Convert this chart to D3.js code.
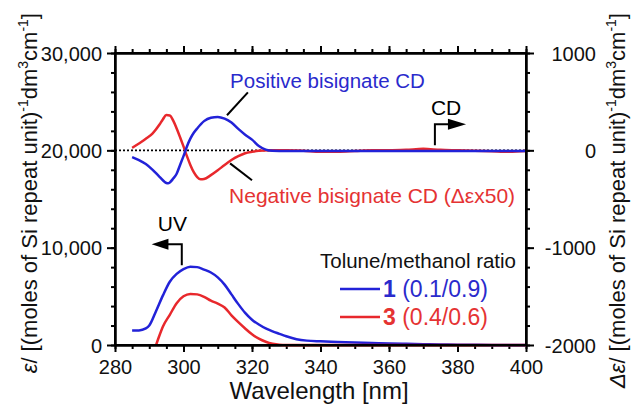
<!DOCTYPE html>
<html>
<head>
<meta charset="utf-8">
<script src="https://cdn.jsdelivr.net/npm/d3@7"></script>
<style>
  body { margin: 0; background: #fff; }
  svg text { font-family: "Liberation Sans", Arial, sans-serif; }
</style>
</head>
<body>
<div id="chart"></div>
<script>
//Data
var xTicks = [280, 300, 320, 340, 360, 380, 400];
var leftTicks = [0, 10000, 20000, 30000];
var rightTicks = [-2000, -1000, 0, 1000];

//CD spectra (right axis)
var cdBlueWave = [285,287,289,291,293,295,295.5,296,297,298,299,300,301,302,303,304,306,308,310,312,314,316,318,320,322,324,326,330,340,350,360,370,380,390,400];
var cdBlue = [-69,-100,-140,-200,-272,-335,-338,-330,-290,-240,-150,-60,40,120,180,225,300,335,343,325,285,220,160,110,45,8,-5,-8,-8,-8,-6,-6,-8,-8,-6];

var cdRedWave = [285,287,289,291,293,294,295,296,297,298,299,300,301,302,303,304,305,306,308,310,312,314,316,318,320,322,325,330,335,340,345,350,355,360,365,370,375,380,385,390,395,400];
var cdRed = [25,70,118,175,265,320,362,358,305,225,135,40,-60,-150,-225,-275,-298,-295,-255,-205,-150,-100,-60,-30,-15,-5,0,0,-5,-15,-15,-8,0,0,5,15,5,0,-5,-10,-15,-8];

//UV spectra (left axis)
var uvBlueWave = [285,287,289,290,292,294,296,298,300,302,304,306,308,310,312,314,316,318,320,322,324,326,328,330,333,336,340,345,350,355,360,365,370,375,380,390,400];
var uvBlue = [1500,1500,1700,2000,3500,5100,6500,7300,7800,8050,8000,7750,7450,6950,6200,5200,4200,3300,2600,2100,1700,1400,1150,900,600,450,380,320,250,200,150,120,80,50,30,10,0];

var uvRedWave = [292,293,294,296,298,300,302,304,306,308,310,312,314,316,318,320,322,324,326,328,330,340,350,360,370,380,390,400];
var uvRed = [0,1000,1900,3100,4300,5000,5250,5200,4950,4550,4250,3850,3050,2350,1700,1100,650,330,120,20,0,0,0,0,0,0,0,0];

var blue = "#2222d8";
var red = "#e8282c";
var blueText = "#2a2acc";
var redText = "#e53333";

//Width and height
var w = 633;
var h = 405;
var m = {left: 115, right: 526, top: 53, bottom: 345};

var xScale = d3.scaleLinear().domain([280, 400]).range([m.left, m.right]);
var yLeft = d3.scaleLinear().domain([0, 30000]).range([m.bottom, m.top]);
var yRight = d3.scaleLinear().domain([-2000, 1000]).range([m.bottom, m.top]);

var svg = d3.select("#chart")
  .append("svg")
  .attr("width", w)
  .attr("height", h);

function zip(xs, ys) {
  return xs.map(function(x, i){ return [x, ys[i]]; });
}

//Axes
function styleAxis(g) {
  g.selectAll("path.domain").attr("stroke", "#000").attr("stroke-width", 2);
  g.selectAll(".tick line").attr("stroke", "#000").attr("stroke-width", 2);
  g.selectAll("text").attr("fill", "#111").attr("font-size", 20)
    .style("font-family", "'Liberation Sans', Arial, sans-serif");
}

var minorX = d3.range(280, 401, 5);
var minorL = d3.range(0, 30001, 2000);
var minorR = d3.range(-2000, 1001, 200);

//bottom
var gB = svg.append("g").attr("transform", "translate(0," + m.bottom + ")");
gB.call(d3.axisBottom(xScale).tickValues(minorX).tickSize(4).tickFormat("").tickSizeOuter(0));
gB.append("g").call(d3.axisBottom(xScale).tickValues(xTicks).tickSize(7).tickSizeOuter(0))
  .selectAll("text").attr("y", 29).attr("dy", 0);
styleAxis(gB);

//top
var gT = svg.append("g").attr("transform", "translate(0," + m.top + ")");
gT.call(d3.axisTop(xScale).tickValues(minorX).tickSize(4).tickFormat("").tickSizeOuter(0));
gT.append("g").call(d3.axisTop(xScale).tickValues(xTicks).tickSize(7).tickFormat("").tickSizeOuter(0));
styleAxis(gT);

//left
var gL = svg.append("g").attr("transform", "translate(" + m.left + ",0)");
gL.call(d3.axisLeft(yLeft).tickValues(minorL).tickSize(4).tickFormat("").tickSizeOuter(0));
gL.append("g").call(d3.axisLeft(yLeft).tickValues(leftTicks).tickSize(8).tickPadding(5)
  .tickFormat(d3.format(",")).tickSizeOuter(0))
  .selectAll("text").attr("dy", "0.36em");
styleAxis(gL);

//right (plain hyphen, no thousands separator)
var gR = svg.append("g").attr("transform", "translate(" + m.right + ",0)");
gR.call(d3.axisRight(yRight).tickValues(minorR).tickSize(4).tickFormat("").tickSizeOuter(0));
gR.append("g").call(d3.axisRight(yRight).tickValues(rightTicks).tickSize(8).tickSizeOuter(0)
  .tickFormat(function(d){ return String(d); }))
  .selectAll("text").attr("x", 70).attr("text-anchor", "end").attr("dy", "0.36em");
styleAxis(gR);

//zero line of the CD axis
svg.append("line")
  .attr("x1", m.left).attr("x2", m.right)
  .attr("y1", yRight(0)).attr("y2", yRight(0))
  .attr("stroke", "#000").attr("stroke-width", 1.6)
  .attr("stroke-dasharray", "2,2");

//Curves
var lineL = d3.line().x(function(d){ return xScale(d[0]); }).y(function(d){ return yLeft(d[1]); })
  .curve(d3.curveMonotoneX);
var lineR = d3.line().x(function(d){ return xScale(d[0]); }).y(function(d){ return yRight(d[1]); })
  .curve(d3.curveMonotoneX);

var curves = [
  {data: zip(uvBlueWave, uvBlue), line: lineL, color: blue},
  {data: zip(uvRedWave, uvRed), line: lineL, color: red},
  {data: zip(cdRedWave, cdRed), line: lineR, color: red},
  {data: zip(cdBlueWave, cdBlue), line: lineR, color: blue}
];

svg.selectAll("path.curve")
  .data(curves)
  .enter()
  .append("path")
  .attr("class", "curve")
  .attr("d", function(d){ return d.line(d.data); })
  .attr("fill", "none")
  .attr("stroke", function(d){ return d.color; })
  .attr("stroke-width", 2.5)
  .attr("stroke-linejoin", "round");

//frame on top of curves
svg.append("rect")
  .attr("x", m.left).attr("y", m.top)
  .attr("width", m.right - m.left).attr("height", m.bottom - m.top)
  .attr("fill", "none").attr("stroke", "#000").attr("stroke-width", 2);

//Annotations
svg.append("text").attr("x", xScale(313.6)).attr("y", yRight(645))
  .attr("font-size", 20.5).attr("fill", blueText).text("Positive bisignate CD");
svg.append("line")
  .attr("x1", xScale(318.8)).attr("y1", yRight(596))
  .attr("x2", xScale(312.7)).attr("y2", yRight(360))
  .attr("stroke", "#000").attr("stroke-width", 2);

svg.append("text").attr("x", xScale(313.3)).attr("y", yRight(-545))
  .attr("font-size", 21).attr("fill", redText).text("Negative bisignate CD (\u0394\u03b5x50)");
svg.append("line")
  .attr("x1", xScale(313.6)).attr("y1", yRight(-134))
  .attr("x2", xScale(320)).attr("y2", yRight(-308))
  .attr("stroke", "#000").attr("stroke-width", 2);

//CD arrow (points to right axis)
svg.append("text").attr("x", xScale(373.4) - 4).attr("y", yRight(360))
  .attr("font-size", 21).attr("fill", "#000").text("CD");
svg.append("path")
  .attr("d", "M" + xScale(373.4) + "," + yRight(52) + "V" + yRight(267) + "H" + (xScale(377.2) + 2))
  .attr("fill", "none").attr("stroke", "#000").attr("stroke-width", 2);
svg.append("path")
  .attr("d", "M" + xScale(377.2) + "," + (yRight(267) - 5.5) + "L" + xScale(382.5) + "," + yRight(267) +
    "L" + xScale(377.2) + "," + (yRight(267) + 5.5) + "Z")
  .attr("fill", "#000");

//UV arrow (points to left axis)
svg.append("text").attr("x", xScale(292.5)).attr("y", yLeft(11700))
  .attr("font-size", 21).attr("fill", "#000").text("UV");
svg.append("path")
  .attr("d", "M" + xScale(299.5) + "," + yLeft(8200) + "V" + yLeft(10350) + "H" + (xScale(295.6) - 2))
  .attr("fill", "none").attr("stroke", "#000").attr("stroke-width", 2);
svg.append("path")
  .attr("d", "M" + xScale(295.6) + "," + (yLeft(10350) - 5.5) + "L" + xScale(290.7) + "," + yLeft(10350) +
    "L" + xScale(295.6) + "," + (yLeft(10350) + 5.5) + "Z")
  .attr("fill", "#000");

//Legend
var legend = svg.append("g");
legend.append("text").attr("x", 320).attr("y", 268)
  .attr("font-size", 20.5).attr("fill", "#111").text("Tolune/methanol ratio");

var legendRows = [
  {num: "1", ratio: "(0.1/0.9)", color: blue, text: blueText, y: 289},
  {num: "3", ratio: "(0.4/0.6)", color: red, text: redText, y: 317}
];
var rows = legend.selectAll("g.row").data(legendRows).enter().append("g").attr("class", "row");
rows.append("line")
  .attr("x1", 340).attr("x2", 380)
  .attr("y1", function(d){ return d.y; }).attr("y2", function(d){ return d.y; })
  .attr("stroke", function(d){ return d.color; }).attr("stroke-width", 2.5);
var rowText = rows.append("text")
  .attr("x", 383).attr("y", function(d){ return d.y + 8; })
  .attr("font-size", 23).attr("fill", function(d){ return d.text; });
rowText.append("tspan").attr("font-weight", "bold").text(function(d){ return d.num; });
rowText.append("tspan").text(function(d){ return " " + d.ratio; });

//Axis titles
svg.append("text").attr("x", 319).attr("y", 399).attr("text-anchor", "middle")
  .attr("font-size", 24).attr("fill", "#111").text("Wavelength [nm]");

function yTitle(x, prefix) {
  var t = svg.append("text")
    .attr("transform", "translate(" + x + ",13) rotate(-90)")
    .attr("text-anchor", "end")
    .attr("font-size", 22).attr("fill", "#111");
  t.append("tspan").attr("font-style", "italic").text(prefix);
  t.append("tspan").text("/ [(moles of Si repeat unit)");
  t.append("tspan").attr("font-size", 14).attr("dy", -9).text("-1");
  t.append("tspan").attr("dy", 9).text("dm");
  t.append("tspan").attr("font-size", 14).attr("dy", -9).text("3");
  t.append("tspan").attr("dy", 9).text("cm");
  t.append("tspan").attr("font-size", 14).attr("dy", -9).text("-1");
  t.append("tspan").attr("dy", 9).text("]");
}
yTitle(37, "\u03b5");
yTitle(625, "\u0394\u03b5");
</script>
</body>
</html>
